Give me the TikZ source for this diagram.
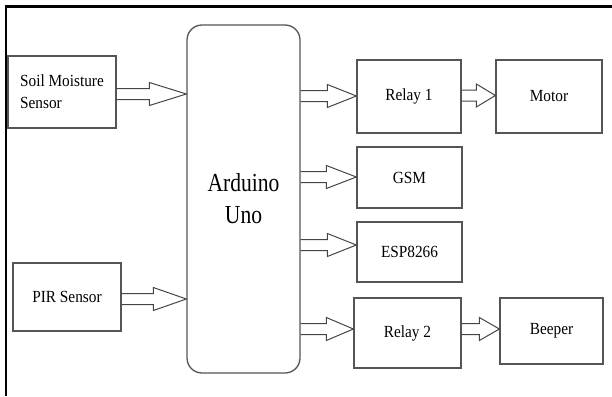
\documentclass[tikz,border=0pt]{standalone}
\usepackage{fontspec}
\setmainfont[FakeStretch=0.9]{Liberation Serif}
\newfontfamily\ardfont[FakeStretch=0.83]{Liberation Serif}
\usetikzlibrary{calc}
\definecolor{boxgray}{HTML}{555555}
\definecolor{arrgray}{HTML}{454545}
\tikzset{
  box/.style={draw=boxgray, line width=1.3pt, rectangle, inner sep=0pt,
    font=\fontsize{17}{22}\selectfont},
  blockarr/.style={draw=arrgray, line width=1pt, line join=miter},
  frame/.style={draw=black, line width=2.5pt}
}
% #1 start point, #2 end point (tip), #3 head length (pt)
\newcommand\blockarrow[3]{%
  \draw[blockarr] let \p1=(#1), \p2=(#2) in
    (\x1,\y1+5.5pt) -- (\x2-#3pt,\y1+5.5pt) -- (\x2-#3pt,\y1+11.5pt)
    -- (\x2,\y2) -- (\x2-#3pt,\y1-11.5pt) -- (\x2-#3pt,\y1-5.5pt)
    -- (\x1,\y1-5.5pt);}
\begin{document}
\begin{tikzpicture}[x=1pt,y=-1pt]
\useasboundingbox (0,0) rectangle (612,396);
% frame
\coordinate (ftl) at (6,6.5);
\coordinate (ftr) at (612,6.5);
\coordinate (fbl) at (6,396);
\draw[frame] (ftr) -- (ftl) -- (fbl);

% nodes
\node[box, minimum width=108pt, minimum height=72pt, align=left] (soil) at (62,92)
  {Soil Moisture\\Sensor};
\node[box, minimum width=108pt, minimum height=68pt] (pir) at (67,297) {PIR Sensor};
\node[box, rounded corners=15pt, minimum width=113pt, minimum height=348pt,
  align=center, font=\ardfont\fontsize{26}{32}\selectfont] (ard) at (243.5,199)
  {Arduino\\Uno};
\node[box, minimum width=104pt, minimum height=73pt] (relay1) at (409,96.5) {Relay 1};
\node[box, minimum width=106pt, minimum height=73pt] (motor) at (549,96.5) {Motor};
\node[box, minimum width=105pt, minimum height=61pt] (gsm) at (409.5,177.5) {GSM};
\node[box, minimum width=105pt, minimum height=60pt] (esp) at (409.5,252) {ESP8266};
\node[box, minimum width=107pt, minimum height=70pt] (relay2) at (407.5,333) {Relay 2};
\node[box, minimum width=103pt, minimum height=66pt] (beeper) at (551.5,331) {Beeper};

% connectors
\blockarrow{soil.east |- 0,94}{ard.west |- 0,94}{37}
\blockarrow{pir.east |- 0,299}{ard.west |- 0,299}{33}
\blockarrow{ard.east |- 0,96}{relay1.west |- 0,96}{29}
\blockarrow{relay1.east |- 0,95.5}{motor.west |- 0,95.5}{19}
\blockarrow{ard.east |- 0,177}{gsm.west |- 0,177}{30}
\blockarrow{ard.east |- 0,245}{esp.west |- 0,245}{29}
\blockarrow{ard.east |- 0,329}{relay2.west |- 0,329}{27}
\blockarrow{relay2.east |- 0,329}{beeper.west |- 0,329}{20}
\end{tikzpicture}
\end{document}
